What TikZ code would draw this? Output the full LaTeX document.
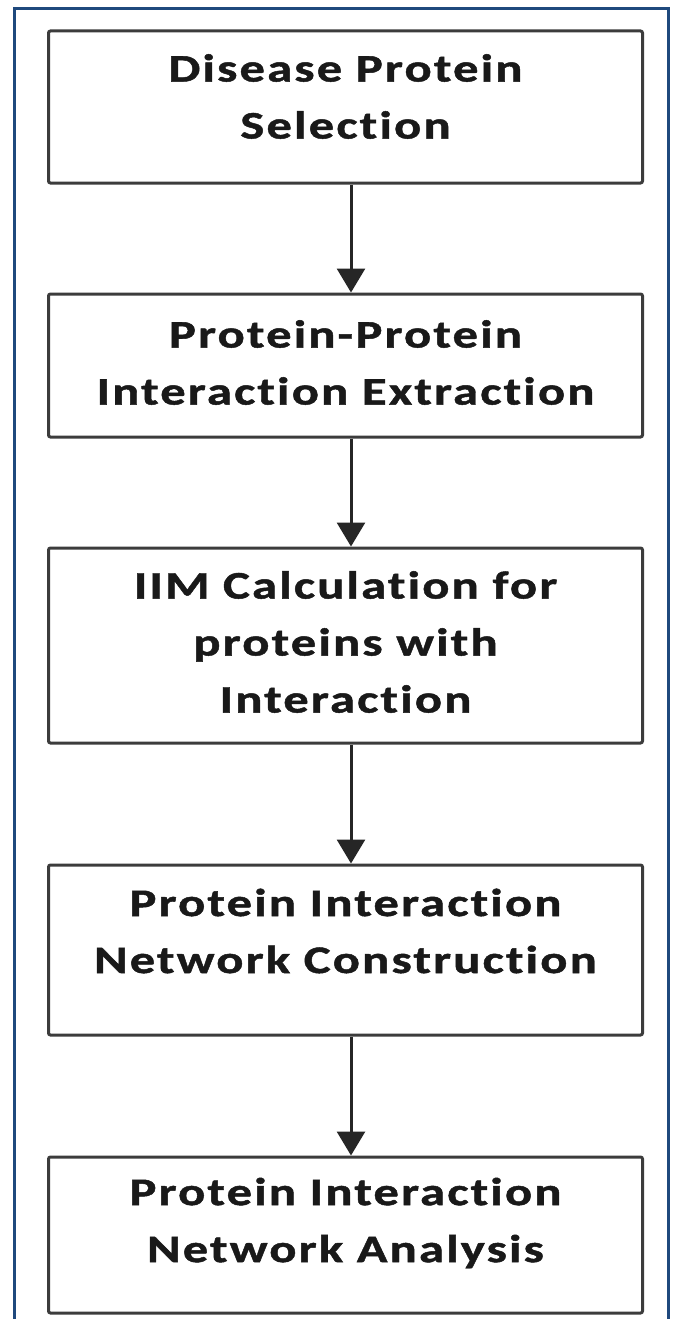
\documentclass[tikz,border=0pt]{standalone}
\usepackage{fontspec}
\setmainfont{Carlito}[Ligatures=NoCommon,FakeStretch=1.3,LetterSpace=5.5,FakeBold=1.2]
\usetikzlibrary{arrows.meta}
\definecolor{frameblue}{RGB}{31,73,125}
\definecolor{boxgray}{RGB}{60,60,60}
\begin{document}
\begin{tikzpicture}[x=1pt,y=-1pt,
  stepbox/.style={draw=boxgray,line width=3pt,rounded corners=2pt,minimum width=594pt,inner sep=0pt,fill=white},
  steptext/.style={align=center,font=\fontsize{39}{57}\selectfont\bfseries,text=black!90},
  arr/.style={draw=black!85,line width=3pt,-{Triangle[width=28pt,length=24pt]}}]
\useasboundingbox (0,0) rectangle (673,1319);
\fill[white] (0,0) rectangle (673,1319);
\draw[frameblue,line width=3pt] (14.5,1320) -- (14.5,8.5) -- (668,8.5) -- (668,1320);
\coordinate (ax) at (351,0);
\node[stepbox,minimum height=152pt] (b1) at (345.5,107) {};
\node[stepbox,minimum height=143pt] (b2) at (345.5,365.5) {};
\node[stepbox,minimum height=195pt] (b3) at (345.5,645.5) {};
\node[stepbox,minimum height=170pt] (b4) at (345.5,950) {};
\node[stepbox,minimum height=156pt] (b5) at (345.5,1235) {};
\node[steptext] (t1) at (345.5,96.5) {Disease Protein\\Selection};
\node[steptext] (t2) at (345.5,362.5) {Protein-Protein\\Interaction Extraction};
\node[steptext] (t3) at (345.5,642) {IIM Calculation for\\proteins with\\Interaction};
\node[steptext] (t4) at (345.5,931) {Protein Interaction\\Network Construction};
\node[steptext] (t5) at (345.5,1223) {Protein Interaction\\Network Analysis};
\draw[arr] (b1.south -| ax) -- (b2.north -| ax);
\draw[arr] (b2.south -| ax) -- (b3.north -| ax);
\draw[arr] (b3.south -| ax) -- (b4.north -| ax);
\draw[arr] (b4.south -| ax) -- (b5.north -| ax);
\end{tikzpicture}
\end{document}
